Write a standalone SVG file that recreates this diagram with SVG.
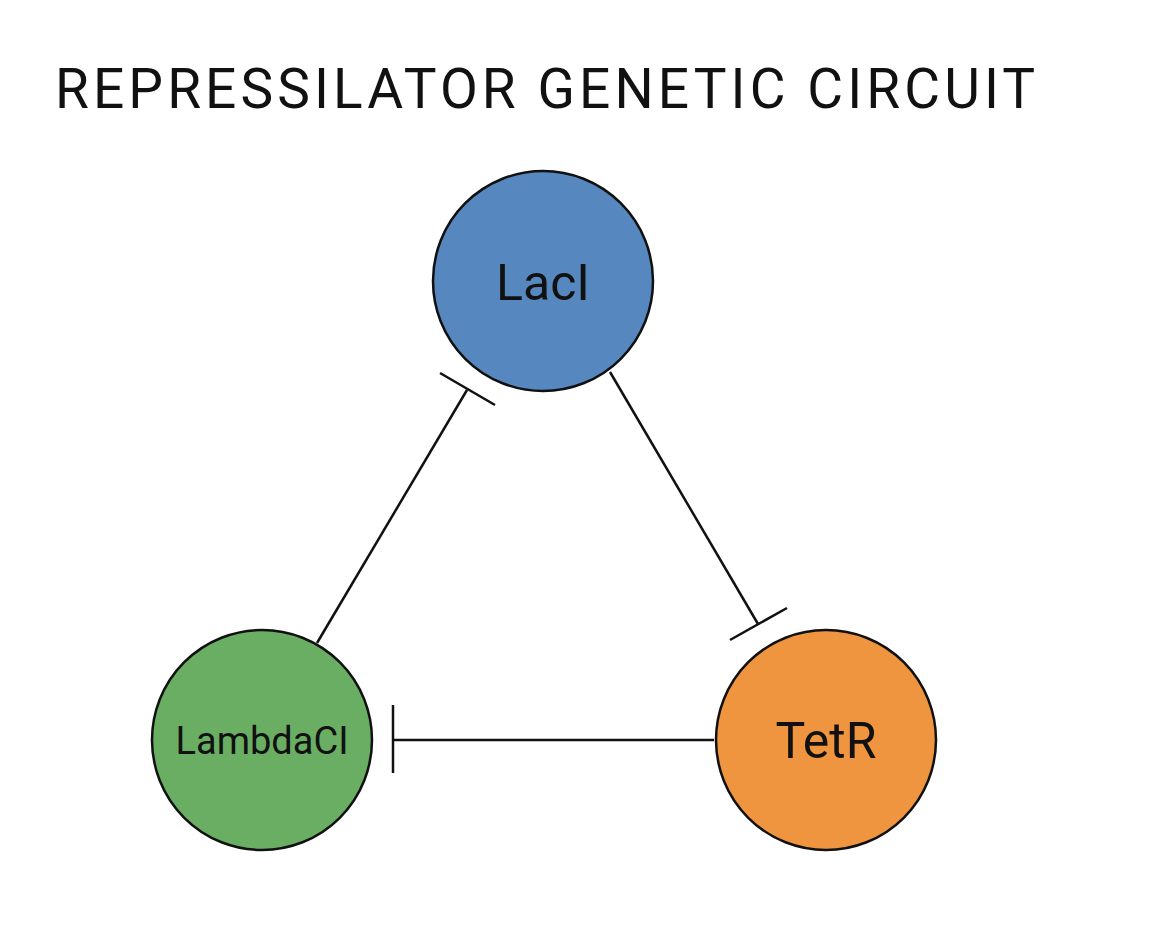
<svg xmlns="http://www.w3.org/2000/svg" width="1150" height="930" viewBox="0 0 1150 930">
<style>
.n{stroke:#111;stroke-width:2.5}
.c{stroke:#111;stroke-width:2.5;fill:none}
.t{font-family:Roboto,"Liberation Sans",sans-serif;fill:#111;text-anchor:middle}
</style>
<rect width="1150" height="930" fill="#fff"/>
<text x="55" y="108" style="font-family:Roboto,'Liberation Sans',sans-serif;font-size:55px" fill="#111" textLength="980">REPRESSILATOR GENETIC CIRCUIT</text>
<g id="connectors">
<line class="c" x1="610" y1="372" x2="758" y2="624"/>
<line class="c" x1="730" y1="640" x2="787" y2="608"/>
<line class="c" x1="317" y1="643" x2="467" y2="390"/>
<line class="c" x1="440" y1="373" x2="495" y2="405"/>
<line class="c" x1="714" y1="740" x2="393" y2="740"/>
<line class="c" x1="393" y1="705" x2="393" y2="773"/>
</g>
<g id="laci"><circle class="n" cx="543" cy="281" r="110" fill="#5787BF"/><text class="t" x="543" y="300" font-size="50">LacI</text></g>
<g id="lambdaci"><circle class="n" cx="262" cy="740" r="110" fill="#6AAE63"/><text class="t" x="262" y="754" font-size="38">LambdaCI</text></g>
<g id="tetr"><circle class="n" cx="826" cy="740" r="110" fill="#EF9540"/><text class="t" x="826" y="758" font-size="50">TetR</text></g>
</svg>
